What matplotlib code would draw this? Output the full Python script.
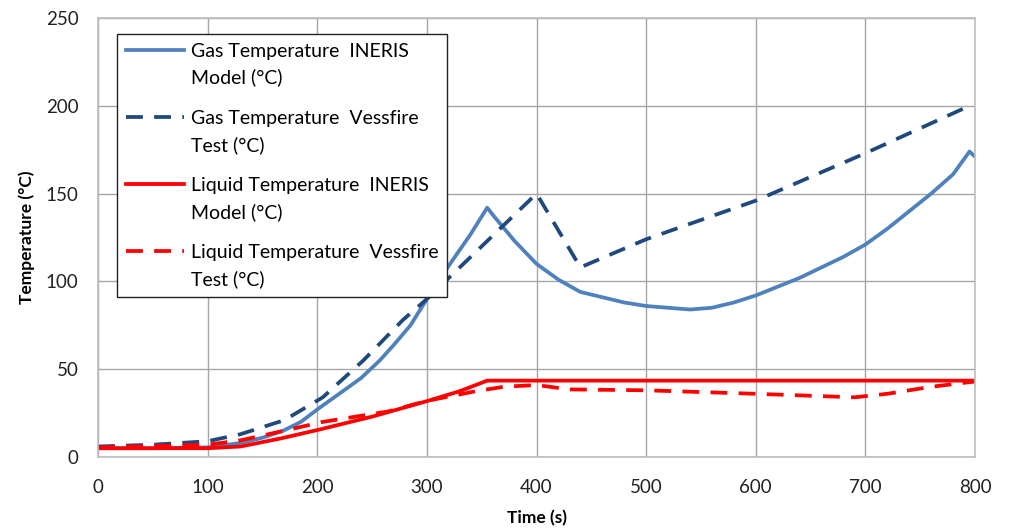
import matplotlib
matplotlib.use('Agg')
import numpy as np
from matplotlib import pyplot as plt

plt.rcParams['font.family'] = ['Lato', 'DejaVu Sans']

# time (s) and temperature (degC)
gas_model_t = [0, 50, 100, 130, 150, 169, 185, 202, 220, 240, 257, 270, 285, 301, 320, 340, 355,
               360, 380, 400, 420, 440, 460, 480, 500, 520, 540, 560, 580, 600, 620, 640, 660,
               680, 700, 720, 740, 760, 780, 795, 800]
gas_model_T = [5, 5, 5.5, 8, 11, 15, 20, 28, 36, 45, 55, 64, 75, 91, 109, 127, 142,
               138, 123, 110, 101, 94, 91, 88, 86, 85, 84, 85, 88, 92, 97, 102, 108,
               114, 121, 130, 140, 150, 161, 174, 171]

gas_test_t = [0, 50, 100, 130, 170, 205, 242, 278, 300, 350, 400, 440, 500, 600, 700, 795]
gas_test_T = [6, 7, 9, 13, 21, 34, 55, 78, 90, 120, 150, 108, 124, 146, 173, 200]

liq_model_t = [0, 100, 130, 166, 201, 250, 301, 330, 355, 800]
liq_model_T = [5, 5, 6, 10.5, 15.5, 23, 32, 37.5, 43.5, 43.5]

liq_test_t = [0, 100, 130, 170, 205, 265, 300, 345, 370, 400, 430, 500, 600, 690, 720, 760, 800]
liq_test_T = [5.5, 7, 9.5, 15, 20, 26, 32, 37.5, 40, 41, 38.5, 38, 36, 34, 36, 40, 43]

labels = ['Gas Temperature  INERIS\nModel (°C)',
          'Gas Temperature  Vessfire\nTest (°C)',
          'Liquid Temperature  INERIS\nModel (°C)',
          'Liquid Temperature  Vessfire\nTest (°C)']

fig = plt.figure(figsize=(10.15, 5.30), dpi=100)
ax = fig.add_axes([0.0966, 0.1377, 0.8640, 0.8283])

lw = 2.7
ax.plot(gas_model_t, gas_model_T, color='#4F81BD', lw=lw, label=labels[0])
ax.plot(gas_test_t, gas_test_T, color='#1F497D', lw=lw, ls=(0, (4.5, 3)), label=labels[1])
ax.plot(liq_model_t, liq_model_T, color='#FF0000', lw=lw, label=labels[2])
ax.plot(liq_test_t, liq_test_T, color='#FF0000', lw=lw, ls=(0, (4.5, 3)), label=labels[3])

ax.set_xlim(0, 800)
ax.set_ylim(0, 250)
ax.set_xticks(np.arange(0, 801, 100))
ax.set_yticks(np.arange(0, 251, 50))
ax.grid(True, color='#A6A6A6', lw=1)
ax.set_axisbelow(True)
for sp in ax.spines.values():
    sp.set_color('#BDBDBD')
    sp.set_linewidth(1.2)
ax.tick_params(length=0, labelsize=13.5, colors='#222222')
ax.tick_params(axis='x', pad=16)
ax.tick_params(axis='y', pad=14)
ax.set_xlabel('Time (s)', fontsize=12.5, fontweight='bold', labelpad=10)
ax.set_ylabel('Temperature (°C)', fontsize=12.5, fontweight='bold', labelpad=8)

leg = ax.legend(loc='upper left', bbox_to_anchor=(0.0217, 0.9636), fontsize=14,
                frameon=True, fancybox=False, framealpha=1, edgecolor='#222222',
                handlelength=3.0, handletextpad=0.35, labelspacing=1.2, borderpad=0.45,
                borderaxespad=0)
leg.get_frame().set_linewidth(1.0)
for txt in leg.get_texts():
    txt.set_linespacing(1.6)
# handles sit on the first text line, as in the original
for col in leg._legend_handle_box.get_children():
    for item in col.get_children():
        item.align = 'top'

fig.savefig('out.png', dpi=100)
